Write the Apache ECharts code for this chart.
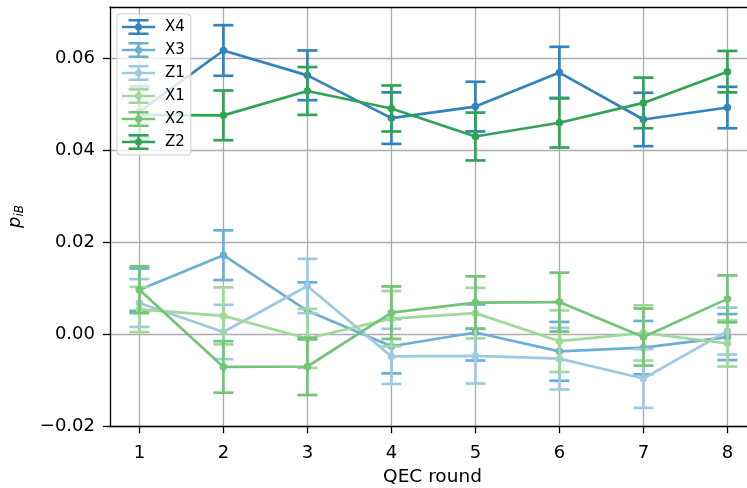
<!DOCTYPE html>
<html><head><meta charset="utf-8">
<script src="https://cdn.jsdelivr.net/npm/echarts@6/dist/echarts.min.js"></script>
<style>html,body{margin:0;padding:0;background:#fff}#c{width:747px;height:488px}</style>
</head><body><div id="c"></div>
<script>
// ---- data ----
const rounds = [1, 2, 3, 4, 5, 6, 7, 8];
const xTicks = [1, 2, 3, 4, 5, 6, 7, 8];
const yTicks = [-0.02, 0, 0.02, 0.04, 0.06];
const seriesNames = ['X4', 'X3', 'Z1', 'X1', 'X2', 'Z2'];

const X4    = [0.0484, 0.0617, 0.0563, 0.0470, 0.0495, 0.0569, 0.0467, 0.0493];
const X4err = [0.0055, 0.0055, 0.0054, 0.0056, 0.0054, 0.0056, 0.0058, 0.0045];
const X3    = [0.0097, 0.0172, 0.0051, -0.0026, 0.0004, -0.0037, -0.0029, -0.0006];
const X3err = [0.0046, 0.0054, 0.0062, 0.0059, 0.0061, 0.0064, 0.0058, 0.0050];
const Z1    = [0.0068, 0.0005, 0.0105, -0.0048, -0.0047, -0.0053, -0.0096, 0.0007];
const Z1err = [0.0052, 0.0059, 0.0059, 0.0060, 0.0060, 0.0067, 0.0064, 0.0051];
const X1    = [0.0054, 0.0040, -0.0009, 0.0034, 0.0046, -0.0015, 0.0003, -0.0020];
const X1err = [0.0049, 0.0062, 0.0064, 0.0060, 0.0055, 0.0067, 0.0060, 0.0050];
const X2    = [0.0097, -0.0071, -0.0070, 0.0047, 0.0069, 0.0070, -0.0006, 0.0077];
const X2err = [0.0051, 0.0056, 0.0062, 0.0057, 0.0057, 0.0064, 0.0062, 0.0051];
const Z2    = [0.0477, 0.0476, 0.0529, 0.0491, 0.0430, 0.0460, 0.0503, 0.0571];
const Z2err = [0.0055, 0.0054, 0.0052, 0.0050, 0.0052, 0.0054, 0.0055, 0.0045];

const values = {X4, X3, Z1, X1, X2, Z2};
const errors = {X4: X4err, X3: X3err, Z1: Z1err, X1: X1err, X2: X2err, Z2: Z2err};
const colors = {X4: '#3182bd', X3: '#6baed6', Z1: '#9ecae1', X1: '#a1d99b', X2: '#74c476', Z2: '#31a354'};

// ---- chart ----
const FONT = 'DejaVu Sans';
const LW = 2.7;
const CAP = 10;

function errRender(color) {
  return function (params, api) {
    const x = api.value(0), y = api.value(1), e = api.value(2);
    const top = api.coord([x, y + e]);
    const bot = api.coord([x, y - e]);
    const style = {stroke: color, lineWidth: LW, fill: null};
    return {
      type: 'group',
      children: [
        {type: 'line', shape: {x1: top[0], y1: top[1], x2: bot[0], y2: bot[1]}, style: style},
        {type: 'line', shape: {x1: top[0] - CAP, y1: top[1], x2: top[0] + CAP, y2: top[1]}, style: style},
        {type: 'line', shape: {x1: bot[0] - CAP, y1: bot[1], x2: bot[0] + CAP, y2: bot[1]}, style: style}
      ]
    };
  };
}

const series = [];
seriesNames.forEach(function (name, i) {
  const v = values[name], e = errors[name], c = colors[name];
  series.push({
    name: name,
    type: 'custom',
    renderItem: errRender(c),
    encode: {x: 0, y: 1},
    data: rounds.map(function (r, k) { return [r, v[k], e[k]]; }),
    itemStyle: {color: c},
    z: 10 + i * 2,
    silent: true,
    animation: false
  });
  series.push({
    name: name,
    type: 'line',
    data: rounds.map(function (r, k) { return [r, v[k]]; }),
    symbol: 'circle',
    symbolSize: 7.5,
    showSymbol: true,
    lineStyle: {color: c, width: LW},
    itemStyle: {color: c},
    z: 11 + i * 2,
    emphasis: {disabled: true},
    animation: false
  });
});

const legendIcon = 'path://M0 6.75H33V9.25H0Z M15.25 0H17.75V16H15.25Z M6.5 0H26.5V2.5H6.5Z M6.5 13.5H26.5V16H6.5Z M16.5 4.5A3.5 3.5 0 1 1 16.5 11.5A3.5 3.5 0 1 1 16.5 4.5Z';

function fmtY(v) {
  const s = Math.abs(v).toFixed(2);
  return v < -1e-9 ? '\u2212' + s : s;
}

const axisBlack = {color: '#000', width: 1.3};
const gridLine = {show: true, lineStyle: {color: '#ababab', width: 1.3}};

const chart = echarts.init(document.getElementById('c'), null, {renderer: 'canvas'});
chart.setOption({
  animation: false,
  backgroundColor: '#ffffff',
  textStyle: {fontFamily: FONT},
  grid: {left: 110, right: 0, top: 6.8, bottom: 61.7, show: false, containLabel: false, outerBoundsMode: 'none'},
  legend: {
    data: seriesNames,
    orient: 'vertical',
    left: 117, top: 14,
    z: 100,
    icon: legendIcon,
    itemWidth: 33, itemHeight: 16, itemGap: 7,
    padding: [5, 6, 5, 5],
    backgroundColor: 'rgba(255,255,255,0.8)',
    borderColor: '#cccccc', borderWidth: 1, borderRadius: 3,
    textStyle: {fontFamily: FONT, fontSize: 15, color: '#000', padding: [0, 0, 0, 5]},
    selectedMode: false
  },
  xAxis: [{
    type: 'value',
    min: 0.65, max: 8.2333,
    name: 'QEC round',
    nameLocation: 'middle',
    nameGap: 41,
    nameTextStyle: {fontFamily: FONT, fontSize: 18.5, color: '#000', padding: [0, 0, 0, 8]},
    axisLine: {show: true, onZero: false, lineStyle: axisBlack},
    axisTick: {show: true, inside: false, length: 7, customValues: xTicks, lineStyle: axisBlack},
    axisLabel: {customValues: xTicks, margin: 18, fontFamily: FONT, fontSize: 18, color: '#000', formatter: function (v) { return String(v); }},
    splitLine: gridLine
  }, {
    type: 'value',
    position: 'top',
    min: 0.65, max: 8.2333,
    axisLine: {show: true, onZero: false, lineStyle: axisBlack},
    axisTick: {show: false},
    axisLabel: {show: false},
    splitLine: {show: false}
  }],
  yAxis: {
    type: 'value',
    min: -0.02, max: 0.0712,
    interval: 0.02,
    name: '{p|p}{s|iB}',
    nameLocation: 'middle',
    nameRotate: 90,
    nameGap: 84,
    nameTextStyle: {
      fontFamily: FONT, color: '#000',
      rich: {
        p: {fontFamily: FONT, fontStyle: 'italic', fontSize: 18, color: '#000'},
        s: {fontFamily: FONT, fontStyle: 'italic', fontSize: 12, color: '#000', verticalAlign: 'bottom', padding: [9, 0, 0, 0]}
      }
    },
    axisLine: {show: true, onZero: false, lineStyle: axisBlack},
    axisTick: {show: true, inside: false, length: 7, customValues: yTicks, lineStyle: axisBlack},
    axisLabel: {customValues: yTicks, margin: 15, fontFamily: FONT, fontSize: 18, color: '#000', formatter: fmtY},
    splitLine: gridLine
  },
  series: series
});
</script>
</body></html>
